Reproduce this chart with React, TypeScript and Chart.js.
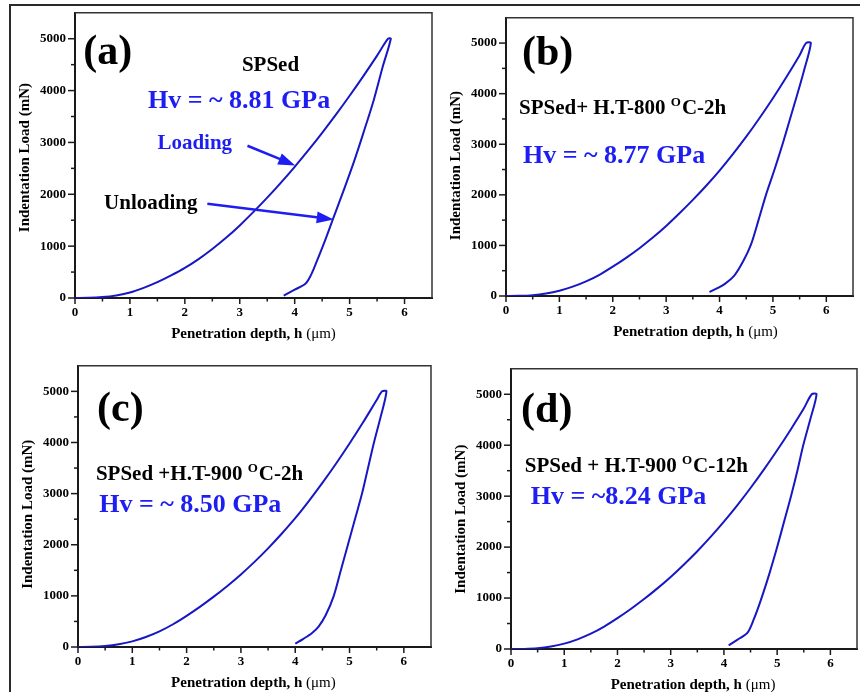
import React, { useEffect, useRef } from 'react';
import { Chart, registerables } from 'chart.js';

Chart.register(...registerables);

type Pt = [number, number];

// ---- Data: [penetration depth h (µm), load (mN)] ----
const loadingA: Pt[] = [[0, 0], [0.25, 3], [0.5, 18], [0.75, 50], [1, 105], [1.25, 195], [1.5, 305], [1.75, 435], [2, 580], [2.25, 750], [2.5, 945], [2.75, 1160], [3, 1400], [3.25, 1660], [3.5, 1935], [3.75, 2225], [4, 2530], [4.25, 2850], [4.5, 3185], [4.75, 3535], [5, 3900], [5.25, 4280], [5.5, 4675], [5.7, 5000]];
const unloadingA: Pt[] = [[5.75, 5000], [5.6, 4450], [5.44, 3820], [5.25, 3180], [5.07, 2600], [4.9, 2100], [4.71, 1560], [4.55, 1100], [4.4, 700], [4.3, 450], [4.2, 280], [4.0, 160], [3.8, 45]];

const loadingB: Pt[] = [[0, 0], [0.25, 3], [0.5, 17], [0.75, 50], [1, 105], [1.25, 185], [1.5, 290], [1.75, 420], [2, 580], [2.25, 755], [2.5, 945], [2.75, 1155], [3, 1385], [3.25, 1635], [3.5, 1900], [3.75, 2180], [4, 2480], [4.25, 2805], [4.5, 3150], [4.75, 3520], [5, 3910], [5.25, 4325], [5.5, 4760], [5.62, 5000]];
const unloadingB: Pt[] = [[5.71, 5000], [5.58, 4450], [5.46, 4000], [5.32, 3500], [5.18, 3000], [5.03, 2500], [4.87, 2000], [4.73, 1500], [4.59, 1020], [4.45, 700], [4.28, 407], [4.1, 240], [3.95, 150], [3.81, 80]];

const loadingC: Pt[] = [[0, 0], [0.25, 3], [0.5, 18], [0.75, 52], [1, 110], [1.25, 195], [1.5, 305], [1.75, 445], [2, 610], [2.25, 790], [2.5, 985], [2.75, 1195], [3, 1420], [3.25, 1665], [3.5, 1930], [3.75, 2215], [4, 2520], [4.25, 2855], [4.5, 3210], [4.75, 3585], [5, 3980], [5.25, 4395], [5.5, 4830], [5.6, 5000]];
const unloadingC: Pt[] = [[5.68, 5000], [5.56, 4450], [5.45, 4000], [5.34, 3500], [5.23, 3000], [5.1, 2500], [4.97, 2000], [4.84, 1500], [4.71, 1000], [4.56, 620], [4.43, 400], [4.31, 275], [4.15, 160], [4.0, 64]];

const loadingD: Pt[] = [[0, 0], [0.25, 2], [0.5, 15], [0.75, 48], [1, 105], [1.25, 190], [1.5, 300], [1.75, 440], [2, 605], [2.25, 785], [2.5, 980], [2.75, 1190], [3, 1415], [3.25, 1660], [3.5, 1920], [3.75, 2200], [4, 2500], [4.25, 2820], [4.5, 3160], [4.75, 3520], [5, 3900], [5.25, 4300], [5.5, 4720], [5.65, 5000]];
const unloadingD: Pt[] = [[5.74, 5000], [5.62, 4500], [5.49, 4000], [5.38, 3500], [5.26, 3000], [5.13, 2500], [5.0, 2000], [4.86, 1500], [4.7, 980], [4.56, 580], [4.44, 315], [4.25, 180], [4.09, 71]];

const loadingCurves = [loadingA, loadingB, loadingC, loadingD];
const unloadingCurves = [unloadingA, unloadingB, unloadingC, unloadingD];

// ---- Texts ----
const panelLabels = ['(a)', '(b)', '(c)', '(d)'];
const sampleNames = [
  { main: 'SPSed', sup: '', tail: '' },
  { main: 'SPSed+ H.T-800 ', sup: 'O', tail: 'C-2h' },
  { main: 'SPSed +H.T-900 ', sup: 'O', tail: 'C-2h' },
  { main: 'SPSed + H.T-900 ', sup: 'O', tail: 'C-12h' },
];
const hardnessTexts = ['Hv = ~ 8.81 GPa', 'Hv = ~ 8.77 GPa', 'Hv = ~ 8.50 GPa', 'Hv = ~8.24 GPa'];
const xTitleMain = 'Penetration depth, h ';
const xTitleUnit = '(μm)';
const yTitleText = 'Indentation Load (mN)';
const loadingText = 'Loading';
const unloadingText = 'Unloading';

// ---- Axis ranges ----
const X_MAX = 6.5;
const Y_MAX = 5500;

// ---- Styles / layout ----
const SERIF = '"Liberation Serif", "Times New Roman", Times, serif';
const CURVE = '#1717c4';
const BLUE = '#1e1ef2';
const AXIS = '#1a1a1a';
const FRAME = '#333333';

type Layout = {
  canvas: { left: number; top: number; width: number; height: number };
  area: { left: number; top: number; right: number; bottom: number };
  label: Pt;
  sample: Pt;
  sampleAlign: CanvasTextAlign;
  hv: Pt;
  yTitleAt: number;
  xTitleAt: number;
  drawRight: boolean;
};

const layouts: Layout[] = [
  { canvas: { left: 12, top: -4, width: 432, height: 350 }, area: { left: 75, top: 8, right: 432, bottom: 298 },
    label: [0.15, 4517], sample: [3.56, 4381], sampleAlign: 'center', hv: [1.33, 3655], yTitleAt: 2708, xTitleAt: 3.25, drawRight: true },
  { canvas: { left: 436, top: 1, width: 424, height: 345 }, area: { left: 506, top: 13, right: 854, bottom: 296 },
    label: [0.3, 4574], sample: [0.243, 3605], sampleAlign: 'left', hv: [0.318, 2636], yTitleAt: 2578, xTitleAt: 3.55, drawRight: true },
  { canvas: { left: 12, top: 349, width: 432, height: 343 }, area: { left: 78, top: 361, right: 431, bottom: 647 },
    label: [0.35, 4429], sample: [0.33, 3269], sampleAlign: 'left', hv: [0.39, 2635], yTitleAt: 2596, xTitleAt: 3.23, drawRight: true },
  { canvas: { left: 436, top: 352, width: 428, height: 340 }, area: { left: 511, top: 364, right: 861, bottom: 649 },
    label: [0.19, 4448], sample: [0.26, 3468], sampleAlign: 'left', hv: [0.37, 2846], yTitleAt: 2548, xTitleAt: 3.42, drawRight: true },
];

// Extra annotations for panel (a)
const loadingTextAt: Pt = [1.5, 2879];
const unloadingTextAt: Pt = [0.53, 1718];
const loadingArrow: [Pt, Pt] = [[3.14, 2936], [4.01, 2557]];
const unloadingArrow: [Pt, Pt] = [[2.41, 1818], [4.71, 1515]];

function drawArrow(ctx: CanvasRenderingContext2D, x1: number, y1: number, x2: number, y2: number) {
  const ang = Math.atan2(y2 - y1, x2 - x1);
  const headLen = 17;
  const headHalf = 6;
  const bx = x2 - headLen * Math.cos(ang);
  const by = y2 - headLen * Math.sin(ang);
  ctx.strokeStyle = BLUE;
  ctx.fillStyle = BLUE;
  ctx.lineWidth = 2.5;
  ctx.beginPath();
  ctx.moveTo(x1, y1);
  ctx.lineTo(bx + 2 * Math.cos(ang), by + 2 * Math.sin(ang));
  ctx.stroke();
  ctx.beginPath();
  ctx.moveTo(x2, y2);
  ctx.lineTo(bx - headHalf * Math.sin(ang), by + headHalf * Math.cos(ang));
  ctx.lineTo(bx + headHalf * Math.sin(ang), by - headHalf * Math.cos(ang));
  ctx.closePath();
  ctx.fill();
}

function makeDecor(i: number) {
  const L = layouts[i];
  return {
    id: 'decor' + i,
    afterDraw(chart: any) {
      const ctx: CanvasRenderingContext2D = chart.ctx;
      const xs = chart.scales.x;
      const ys = chart.scales.y;
      const { left, right, top, bottom } = chart.chartArea;
      const X = (h: number) => xs.getPixelForValue(h);
      const Y = (p: number) => ys.getPixelForValue(p);
      ctx.save();

      // top & right frame
      ctx.strokeStyle = FRAME;
      ctx.lineWidth = 1.5;
      ctx.beginPath();
      ctx.moveTo(left, top);
      ctx.lineTo(right, top);
      if (L.drawRight) ctx.lineTo(right, bottom);
      ctx.stroke();

      // tick marks (major / minor, outward)
      ctx.strokeStyle = AXIS;
      ctx.lineWidth = 1.5;
      xs.ticks.forEach((t: any) => {
        if (t.value >= xs.max) return;
        const major = Number.isInteger(t.value);
        const px = X(t.value);
        ctx.beginPath();
        ctx.moveTo(px, bottom);
        ctx.lineTo(px, bottom + (major ? 6 : 3.5));
        ctx.stroke();
      });
      ys.ticks.forEach((t: any) => {
        if (t.value >= ys.max) return;
        const major = t.value % 1000 === 0;
        const py = Y(t.value);
        ctx.beginPath();
        ctx.moveTo(left, py);
        ctx.lineTo(left - (major ? 7 : 4), py);
        ctx.stroke();
      });

      // axis titles
      ctx.fillStyle = '#000';
      ctx.textBaseline = 'alphabetic';
      ctx.font = `bold 15px ${SERIF}`;
      const wMain = ctx.measureText(xTitleMain).width;
      ctx.font = `15px ${SERIF}`;
      const wUnit = ctx.measureText(xTitleUnit).width;
      const xStart = X(L.xTitleAt) - (wMain + wUnit) / 2;
      const xBase = bottom + 40;
      ctx.textAlign = 'left';
      ctx.font = `bold 15px ${SERIF}`;
      ctx.fillText(xTitleMain, xStart, xBase);
      ctx.font = `15px ${SERIF}`;
      ctx.fillText(xTitleUnit, xStart + wMain, xBase);

      ctx.save();
      ctx.translate(left - 50, Y(L.yTitleAt));
      ctx.rotate(-Math.PI / 2);
      ctx.textAlign = 'center';
      ctx.textBaseline = 'middle';
      ctx.font = `bold 15px ${SERIF}`;
      ctx.fillText(yTitleText, 0, 0);
      ctx.restore();

      // panel label
      ctx.textBaseline = 'alphabetic';
      ctx.textAlign = 'left';
      ctx.font = `bold 42px ${SERIF}`;
      ctx.fillStyle = '#000';
      ctx.fillText(panelLabels[i], X(L.label[0]), Y(L.label[1]));

      // sample name (with superscript)
      const s = sampleNames[i];
      ctx.font = `bold 21px ${SERIF}`;
      const w1 = ctx.measureText(s.main).width;
      const w3 = ctx.measureText(s.tail).width;
      ctx.font = `bold 13px ${SERIF}`;
      const w2 = s.sup ? ctx.measureText(s.sup).width + 1 : 0;
      const total = w1 + w2 + w3;
      let sx = X(L.sample[0]);
      if (L.sampleAlign === 'center') sx -= total / 2;
      const sy = Y(L.sample[1]);
      ctx.font = `bold 21px ${SERIF}`;
      ctx.fillText(s.main, sx, sy);
      if (s.sup) {
        ctx.font = `bold 13px ${SERIF}`;
        ctx.fillText(s.sup, sx + w1, sy - 8);
        ctx.font = `bold 21px ${SERIF}`;
        ctx.fillText(s.tail, sx + w1 + w2, sy);
      }

      // hardness
      ctx.fillStyle = BLUE;
      ctx.font = `bold 26px ${SERIF}`;
      ctx.fillText(hardnessTexts[i], X(L.hv[0]), Y(L.hv[1]));

      if (i === 0) {
        ctx.font = `bold 21px ${SERIF}`;
        ctx.fillStyle = BLUE;
        ctx.fillText(loadingText, X(loadingTextAt[0]), Y(loadingTextAt[1]));
        ctx.fillStyle = '#000';
        ctx.fillText(unloadingText, X(unloadingTextAt[0]), Y(unloadingTextAt[1]));
        drawArrow(ctx, X(loadingArrow[0][0]), Y(loadingArrow[0][1]), X(loadingArrow[1][0]), Y(loadingArrow[1][1]));
        drawArrow(ctx, X(unloadingArrow[0][0]), Y(unloadingArrow[0][1]), X(unloadingArrow[1][0]), Y(unloadingArrow[1][1]));
      }

      ctx.restore();
    },
  };
}

function Panel({ index }: { index: number }) {
  const ref = useRef<HTMLCanvasElement>(null);
  const L = layouts[index];
  useEffect(() => {
    if (!ref.current) return;
    const yAxisWidth = L.area.left - L.canvas.left;
    const xAxisHeight = L.canvas.top + L.canvas.height - L.area.bottom;
    const tickFont = { family: SERIF, size: 13, weight: 'bold' as const };
    const points = [...loadingCurves[index], ...unloadingCurves[index]].map(([x, y]) => ({ x, y }));
    const chart = new Chart(ref.current, {
      type: 'scatter',
      data: {
        datasets: [
          {
            data: points,
            showLine: true,
            borderColor: CURVE,
            backgroundColor: CURVE,
            borderWidth: 2,
            pointRadius: 0,
            tension: 0.3,
            fill: false,
          } as any,
        ],
      },
      options: {
        responsive: false,
        animation: false,
        events: [],
        devicePixelRatio: 1,
        layout: {
          padding: {
            left: 0,
            top: L.area.top - L.canvas.top,
            right: L.canvas.left + L.canvas.width - L.area.right,
            bottom: 0,
          },
        },
        plugins: { legend: { display: false }, tooltip: { enabled: false }, title: { display: false } },
        scales: {
          x: {
            type: 'linear',
            min: 0,
            max: X_MAX,
            grid: { display: false, drawTicks: false },
            border: { display: true, color: AXIS, width: 2 },
            ticks: {
              stepSize: 0.5,
              includeBounds: false,
              autoSkip: false,
              maxRotation: 0,
              padding: 7,
              color: '#000',
              font: tickFont,
              callback: (v: any) => (Number.isInteger(Number(v)) ? String(v) : ''),
            },
            afterFit: (s: any) => {
              s.height = xAxisHeight;
            },
          },
          y: {
            type: 'linear',
            min: 0,
            max: Y_MAX,
            grid: { display: false, drawTicks: false },
            border: { display: true, color: AXIS, width: 2 },
            ticks: {
              stepSize: 500,
              includeBounds: false,
              autoSkip: false,
              padding: 9,
              color: '#000',
              font: tickFont,
              callback: (v: any) => (Number(v) % 1000 === 0 && Number(v) <= 5000 ? String(v) : ''),
            },
            afterFit: (s: any) => {
              s.width = yAxisWidth;
            },
          },
        },
      } as any,
      plugins: [makeDecor(index)],
    });
    return () => chart.destroy();
  }, [index]);
  return (
    <canvas
      ref={ref}
      width={L.canvas.width}
      height={L.canvas.height}
      style={{ position: 'absolute', left: L.canvas.left, top: L.canvas.top, width: L.canvas.width, height: L.canvas.height }}
    />
  );
}

export default function App() {
  return (
    <div style={{ position: 'absolute', left: 0, top: 0, width: 860, height: 692, overflow: 'hidden', background: '#fff' }}>
      <div
        style={{
          position: 'absolute',
          left: 9,
          top: 4,
          width: 870,
          height: 700,
          borderTop: '2px solid #2a2a2a',
          borderLeft: '2px solid #2a2a2a',
        }}
      />
      {layouts.map((_, i) => (
        <Panel key={i} index={i} />
      ))}
    </div>
  );
}
